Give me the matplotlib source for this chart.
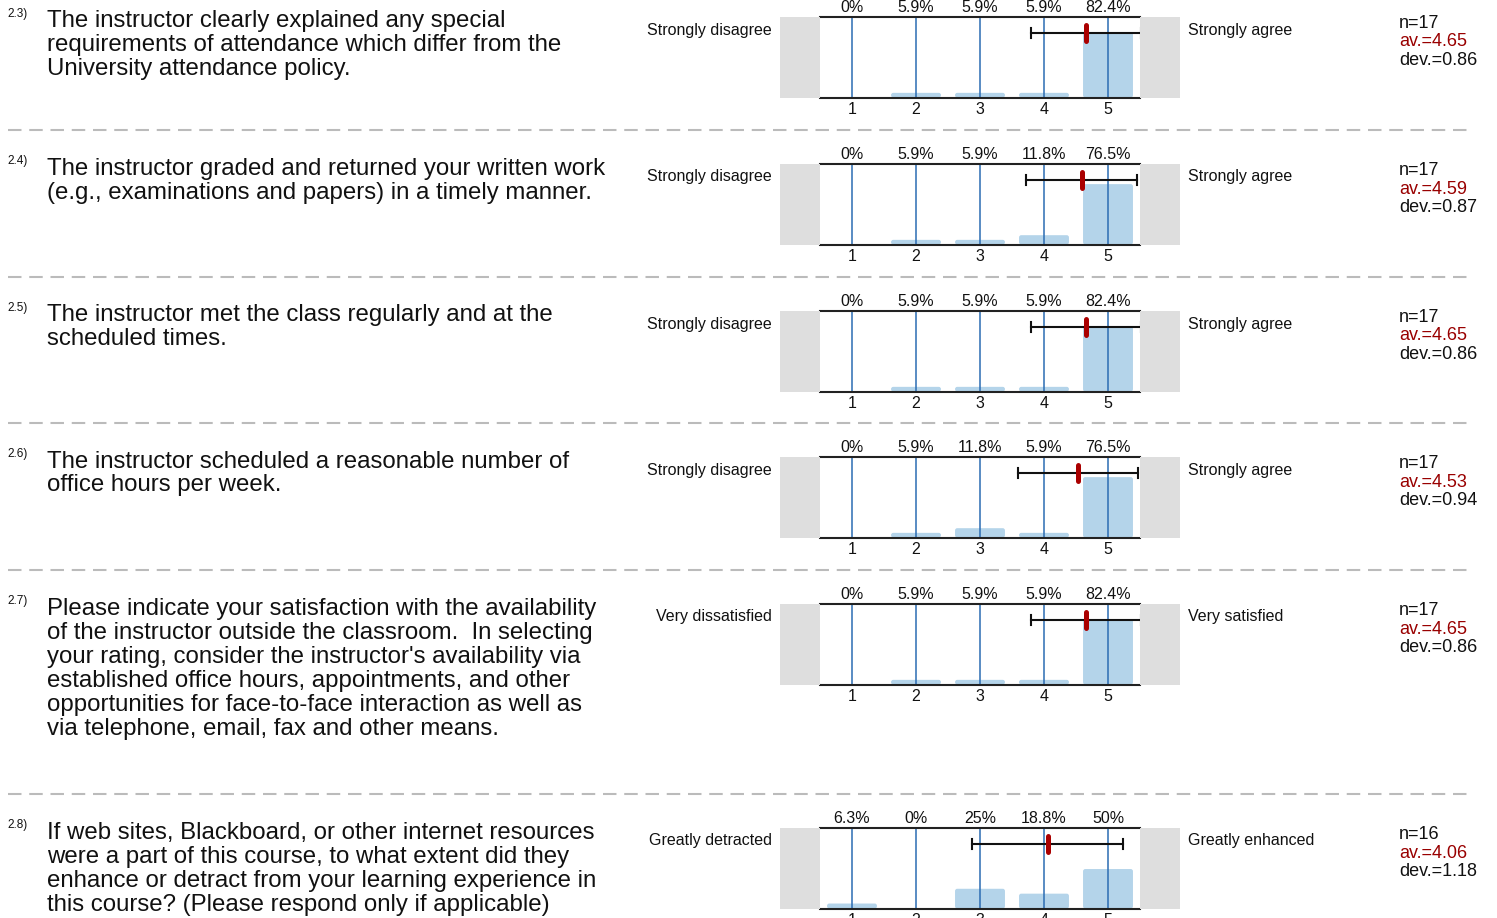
import matplotlib
matplotlib.use("Agg")
import matplotlib.pyplot as plt
from matplotlib.patches import FancyBboxPatch, Rectangle
from matplotlib.lines import Line2D

plt.rcParams['font.family'] = ['Liberation Sans', 'DejaVu Sans']
plt.rcParams['lines.scale_dashes'] = False

# survey data
qnums = ["2.3)", "2.4)", "2.5)", "2.6)", "2.7)", "2.8)"]
questions = [
    ["The instructor clearly explained any special",
     "requirements of attendance which differ from the",
     "University attendance policy."],
    ["The instructor graded and returned your written work",
     "(e.g., examinations and papers) in a timely manner."],
    ["The instructor met the class regularly and at the",
     "scheduled times."],
    ["The instructor scheduled a reasonable number of",
     "office hours per week."],
    ["Please indicate your satisfaction with the availability",
     "of the instructor outside the classroom.  In selecting",
     "your rating, consider the instructor's availability via",
     "established office hours, appointments, and other",
     "opportunities for face-to-face interaction as well as",
     "via telephone, email, fax and other means."],
    ["If web sites, Blackboard, or other internet resources",
     "were a part of this course, to what extent did they",
     "enhance or detract from your learning experience in",
     "this course? (Please respond only if applicable)"],
]
left_labels = ["Strongly disagree"] * 4 + ["Very dissatisfied", "Greatly detracted"]
right_labels = ["Strongly agree"] * 4 + ["Very satisfied", "Greatly enhanced"]
levels = [1, 2, 3, 4, 5]
pct_labels = [
    ["0%", "5.9%", "5.9%", "5.9%", "82.4%"],
    ["0%", "5.9%", "5.9%", "11.8%", "76.5%"],
    ["0%", "5.9%", "5.9%", "5.9%", "82.4%"],
    ["0%", "5.9%", "11.8%", "5.9%", "76.5%"],
    ["0%", "5.9%", "5.9%", "5.9%", "82.4%"],
    ["6.3%", "0%", "25%", "18.8%", "50%"],
]
pcts = [
    [0, 5.9, 5.9, 5.9, 82.4],
    [0, 5.9, 5.9, 11.8, 76.5],
    [0, 5.9, 5.9, 5.9, 82.4],
    [0, 5.9, 11.8, 5.9, 76.5],
    [0, 5.9, 5.9, 5.9, 82.4],
    [6.3, 0, 25, 18.8, 50],
]
ns = [17, 17, 17, 17, 17, 16]
avs = [4.65, 4.59, 4.65, 4.53, 4.65, 4.06]
devs = [0.86, 0.87, 0.86, 0.94, 0.86, 1.18]

# layout (pixels)
W, H = 1497, 918
block_tops = [-17, 130, 277, 423, 570, 794]

def fx(px):
    return px / W

def fy(py):
    return 1 - py / H

fig = plt.figure(figsize=(W / 100, H / 100), dpi=100)

big = 24 * 0.72
small = 16 * 0.72
stat = 18 * 0.72

for i, top in enumerate(block_tops):
    # separator
    if i > 0:
        fig.add_artist(Line2D([fx(8), fx(1471)], [fy(top), fy(top)],
                              transform=fig.transFigure, color='#bbbbbb',
                              lw=1.5, linestyle=(0, (9.7, 5.6))))
    # question number and text
    fig.text(fx(7), fy(top + 34), qnums[i], fontsize=8.5, color='#111111', va='baseline')
    for k, line in enumerate(questions[i]):
        fig.text(fx(47), fy(top + 44.5 + 24 * k), line, fontsize=big,
                 color='#111111', va='baseline')

    # end labels
    fig.text(fx(772), fy(top + 51.5), left_labels[i], fontsize=small,
             ha='right', va='baseline', color='#111111')
    fig.text(fx(1188), fy(top + 51.5), right_labels[i], fontsize=small,
             ha='left', va='baseline', color='#111111')

    # stats
    fig.text(fx(1399), fy(top + 45), "n=%d" % ns[i], fontsize=stat, va='baseline', color='#111111')
    fig.text(fx(1399), fy(top + 63.5), "av.=%.2f" % avs[i], fontsize=stat, va='baseline', color='#990000')
    fig.text(fx(1399), fy(top + 82), "dev.=%.2f" % devs[i], fontsize=stat, va='baseline', color='#111111')

    # grey side boxes
    y0, y1 = top + 34, top + 114.5
    for gx0, gx1 in [(780, 820), (1140, 1180)]:
        fig.add_artist(Rectangle((fx(gx0), fy(y1)), fx(gx1) - fx(gx0), (y1 - y0) / H,
                                 transform=fig.transFigure, color='#dedede', lw=0))

    ax = fig.add_axes([fx(820), fy(y1), fx(1140) - fx(820), (y1 - y0) / H])
    ax.set_xlim(0.5, 5.5)
    ax.set_ylim(0, 102)
    aspect = (102 / (y1 - y0)) / (5 / 320)
    for x, p in zip(levels, pcts[i]):
        if p > 0:
            ax.add_patch(FancyBboxPatch((x - 0.39, 0), 0.78, p,
                                        boxstyle="round,pad=0,rounding_size=0.035",
                                        mutation_aspect=aspect, fc='#b4d4ea', ec='none', zorder=1))
    trans = ax.get_xaxis_transform()
    ax.vlines(levels, 0, 1, transform=trans, color='#2b6cb3', lw=1.1, zorder=2)

    # mean +/- deviation
    ey = 0.80
    lo, hi = avs[i] - devs[i], avs[i] + devs[i]
    ax.plot([lo, hi], [ey, ey], transform=trans, color='#111111', lw=1.5, zorder=4, clip_on=False)
    for cx in (lo, hi):
        ax.plot([cx, cx], [ey - 0.062, ey + 0.062], transform=trans, color='#111111',
                lw=1.5, zorder=4, clip_on=False)
    ax.plot([avs[i], avs[i]], [ey - 0.1, ey + 0.1], transform=trans, color='#aa0000',
            lw=3.6, solid_capstyle='round', zorder=5, clip_on=False)

    for s in ['left', 'right']:
        ax.spines[s].set_visible(False)
    for s in ['top', 'bottom']:
        ax.spines[s].set_color('#222222')
        ax.spines[s].set_linewidth(1.5)
    ax.set_yticks([])
    ax.set_xticks(levels)
    ax.tick_params(axis='x', length=0, pad=3, labelsize=small, labelcolor='#111111')
    sec = ax.secondary_xaxis('top')
    sec.set_xticks(levels, pct_labels[i])
    sec.tick_params(axis='x', length=0, pad=1.2, labelsize=small, labelcolor='#111111')
    sec.spines['top'].set_visible(False)

fig.savefig("out.png", dpi=100)
